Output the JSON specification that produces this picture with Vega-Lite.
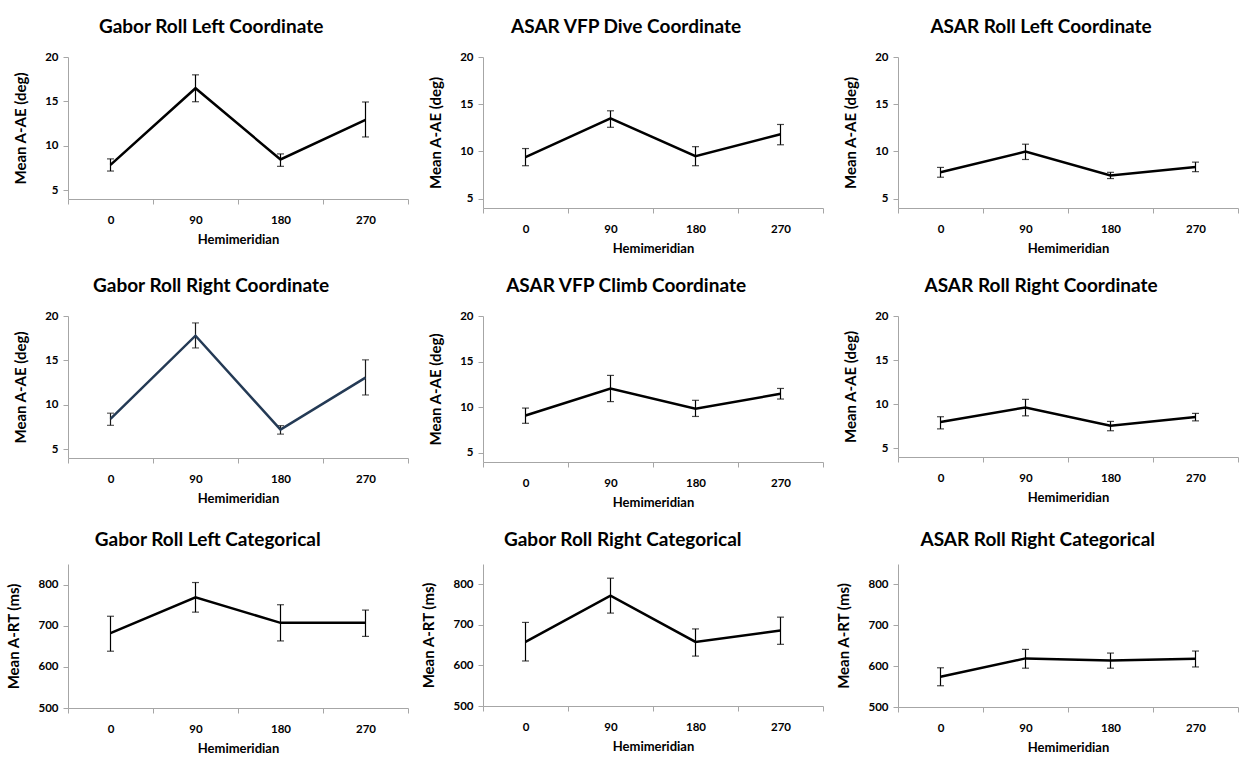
{
  "$schema": "https://vega.github.io/schema/vega-lite/v6.json",
  "background": "white",
  "padding": {"left": 6, "top": 18, "right": 4, "bottom": 4},
  "datasets": {
    "d": [
      {"panel": "Gabor Roll Left Coordinate", "hm": 0, "mean": 7.85, "lo": 7.15, "hi": 8.52},
      {"panel": "Gabor Roll Left Coordinate", "hm": 90, "mean": 16.48, "lo": 14.96, "hi": 17.99},
      {"panel": "Gabor Roll Left Coordinate", "hm": 180, "mean": 8.45, "lo": 7.68, "hi": 9.08},
      {"panel": "Gabor Roll Left Coordinate", "hm": 270, "mean": 12.92, "lo": 10.99, "hi": 14.93},
      {"panel": "ASAR VFP Dive Coordinate", "hm": 0, "mean": 9.4, "lo": 8.48, "hi": 10.3},
      {"panel": "ASAR VFP Dive Coordinate", "hm": 90, "mean": 13.51, "lo": 12.55, "hi": 14.3},
      {"panel": "ASAR VFP Dive Coordinate", "hm": 180, "mean": 9.5, "lo": 8.48, "hi": 10.5},
      {"panel": "ASAR VFP Dive Coordinate", "hm": 270, "mean": 11.82, "lo": 10.7, "hi": 12.85},
      {"panel": "ASAR Roll Left Coordinate", "hm": 0, "mean": 7.78, "lo": 7.26, "hi": 8.3},
      {"panel": "ASAR Roll Left Coordinate", "hm": 90, "mean": 9.97, "lo": 9.14, "hi": 10.76},
      {"panel": "ASAR Roll Left Coordinate", "hm": 180, "mean": 7.45, "lo": 7.12, "hi": 7.78},
      {"panel": "ASAR Roll Left Coordinate", "hm": 270, "mean": 8.34, "lo": 7.85, "hi": 8.86},
      {"panel": "Gabor Roll Right Coordinate", "hm": 0, "mean": 8.42, "lo": 7.68, "hi": 9.05},
      {"panel": "Gabor Roll Right Coordinate", "hm": 90, "mean": 17.78, "lo": 16.4, "hi": 19.22},
      {"panel": "Gabor Roll Right Coordinate", "hm": 180, "mean": 7.19, "lo": 6.69, "hi": 7.65},
      {"panel": "Gabor Roll Right Coordinate", "hm": 270, "mean": 13.05, "lo": 11.1, "hi": 15.06},
      {"panel": "ASAR VFP Climb Coordinate", "hm": 0, "mean": 9.09, "lo": 8.24, "hi": 9.91},
      {"panel": "ASAR VFP Climb Coordinate", "hm": 90, "mean": 12.06, "lo": 10.62, "hi": 13.49},
      {"panel": "ASAR VFP Climb Coordinate", "hm": 180, "mean": 9.84, "lo": 8.99, "hi": 10.76},
      {"panel": "ASAR VFP Climb Coordinate", "hm": 270, "mean": 11.48, "lo": 10.9, "hi": 12.06},
      {"panel": "ASAR Roll Right Coordinate", "hm": 0, "mean": 7.97, "lo": 7.19, "hi": 8.57},
      {"panel": "ASAR Roll Right Coordinate", "hm": 90, "mean": 9.62, "lo": 8.67, "hi": 10.54},
      {"panel": "ASAR Roll Right Coordinate", "hm": 180, "mean": 7.54, "lo": 6.98, "hi": 8.04},
      {"panel": "ASAR Roll Right Coordinate", "hm": 270, "mean": 8.53, "lo": 8.1, "hi": 8.95},
      {"panel": "Gabor Roll Left Categorical", "hm": 0, "mean": 682, "lo": 638, "hi": 723},
      {"panel": "Gabor Roll Left Categorical", "hm": 90, "mean": 769, "lo": 733, "hi": 805},
      {"panel": "Gabor Roll Left Categorical", "hm": 180, "mean": 707, "lo": 663, "hi": 751},
      {"panel": "Gabor Roll Left Categorical", "hm": 270, "mean": 707, "lo": 674, "hi": 738},
      {"panel": "Gabor Roll Right Categorical", "hm": 0, "mean": 658, "lo": 611, "hi": 706},
      {"panel": "Gabor Roll Right Categorical", "hm": 90, "mean": 772, "lo": 729, "hi": 815},
      {"panel": "Gabor Roll Right Categorical", "hm": 180, "mean": 658, "lo": 623, "hi": 690},
      {"panel": "Gabor Roll Right Categorical", "hm": 270, "mean": 686, "lo": 652, "hi": 719},
      {"panel": "ASAR Roll Right Categorical", "hm": 0, "mean": 574, "lo": 552, "hi": 596},
      {"panel": "ASAR Roll Right Categorical", "hm": 90, "mean": 619, "lo": 595, "hi": 641},
      {"panel": "ASAR Roll Right Categorical", "hm": 180, "mean": 614, "lo": 595, "hi": 632},
      {"panel": "ASAR Roll Right Categorical", "hm": 270, "mean": 618, "lo": 598, "hi": 637}
    ]
  },
  "columns": 3,
  "spacing": {"column": 12, "row": 21},
  "concat": [
    {
      "title": "Gabor Roll Left Coordinate", "width": 340, "height": 142,
      "data": {"name": "d"},
      "transform": [{"filter": "datum.panel === 'Gabor Roll Left Coordinate'"}],
      "encoding": {"x": {"field": "hm", "type": "ordinal", "scale": {"type": "band", "paddingInner": 0, "paddingOuter": 0}, "axis": {"title": "Hemimeridian", "tickBand": "extent", "labelAngle": 0}}},
      "layer": [
        {"mark": {"type": "rule", "color": "black", "strokeWidth": 1.2}, "encoding": {"y": {"field": "lo", "type": "quantitative", "scale": {"domain": [5, 20]}, "axis": {"title": "Mean A-AE (deg)", "values": [5, 10, 15, 20]}}, "y2": {"field": "hi"}}},
        {"mark": {"type": "tick", "color": "black", "size": 7, "thickness": 1.2, "orient": "horizontal"}, "encoding": {"y": {"field": "lo", "type": "quantitative", "axis": {"title": "Mean A-AE (deg)"}}}},
        {"mark": {"type": "tick", "color": "black", "size": 7, "thickness": 1.2, "orient": "horizontal"}, "encoding": {"y": {"field": "hi", "type": "quantitative", "axis": {"title": "Mean A-AE (deg)"}}}},
        {"mark": {"type": "line", "color": "black", "strokeWidth": 2.5}, "encoding": {"y": {"field": "mean", "type": "quantitative", "axis": {"title": "Mean A-AE (deg)"}}}}
      ]
    },
    {
      "title": "ASAR VFP Dive Coordinate", "width": 340, "height": 151,
      "data": {"name": "d"},
      "transform": [{"filter": "datum.panel === 'ASAR VFP Dive Coordinate'"}],
      "encoding": {"x": {"field": "hm", "type": "ordinal", "scale": {"type": "band", "paddingInner": 0, "paddingOuter": 0}, "axis": {"title": "Hemimeridian", "tickBand": "extent", "labelAngle": 0}}},
      "layer": [
        {"mark": {"type": "rule", "color": "black", "strokeWidth": 1.2}, "encoding": {"y": {"field": "lo", "type": "quantitative", "scale": {"domain": [5, 20]}, "axis": {"title": "Mean A-AE (deg)", "values": [5, 10, 15, 20]}}, "y2": {"field": "hi"}}},
        {"mark": {"type": "tick", "color": "black", "size": 7, "thickness": 1.2, "orient": "horizontal"}, "encoding": {"y": {"field": "lo", "type": "quantitative", "axis": {"title": "Mean A-AE (deg)"}}}},
        {"mark": {"type": "tick", "color": "black", "size": 7, "thickness": 1.2, "orient": "horizontal"}, "encoding": {"y": {"field": "hi", "type": "quantitative", "axis": {"title": "Mean A-AE (deg)"}}}},
        {"mark": {"type": "line", "color": "black", "strokeWidth": 2.5}, "encoding": {"y": {"field": "mean", "type": "quantitative", "axis": {"title": "Mean A-AE (deg)"}}}}
      ]
    },
    {
      "title": "ASAR Roll Left Coordinate", "width": 340, "height": 151,
      "data": {"name": "d"},
      "transform": [{"filter": "datum.panel === 'ASAR Roll Left Coordinate'"}],
      "encoding": {"x": {"field": "hm", "type": "ordinal", "scale": {"type": "band", "paddingInner": 0, "paddingOuter": 0}, "axis": {"title": "Hemimeridian", "tickBand": "extent", "labelAngle": 0}}},
      "layer": [
        {"mark": {"type": "rule", "color": "black", "strokeWidth": 1.2}, "encoding": {"y": {"field": "lo", "type": "quantitative", "scale": {"domain": [5, 20]}, "axis": {"title": "Mean A-AE (deg)", "values": [5, 10, 15, 20]}}, "y2": {"field": "hi"}}},
        {"mark": {"type": "tick", "color": "black", "size": 7, "thickness": 1.2, "orient": "horizontal"}, "encoding": {"y": {"field": "lo", "type": "quantitative", "axis": {"title": "Mean A-AE (deg)"}}}},
        {"mark": {"type": "tick", "color": "black", "size": 7, "thickness": 1.2, "orient": "horizontal"}, "encoding": {"y": {"field": "hi", "type": "quantitative", "axis": {"title": "Mean A-AE (deg)"}}}},
        {"mark": {"type": "line", "color": "black", "strokeWidth": 2.5}, "encoding": {"y": {"field": "mean", "type": "quantitative", "axis": {"title": "Mean A-AE (deg)"}}}}
      ]
    },
    {
      "title": "Gabor Roll Right Coordinate", "width": 340, "height": 142,
      "data": {"name": "d"},
      "transform": [{"filter": "datum.panel === 'Gabor Roll Right Coordinate'"}],
      "encoding": {"x": {"field": "hm", "type": "ordinal", "scale": {"type": "band", "paddingInner": 0, "paddingOuter": 0}, "axis": {"title": "Hemimeridian", "tickBand": "extent", "labelAngle": 0}}},
      "layer": [
        {"mark": {"type": "rule", "color": "#1a1a1a", "strokeWidth": 1.2}, "encoding": {"y": {"field": "lo", "type": "quantitative", "scale": {"domain": [5, 20]}, "axis": {"title": "Mean A-AE (deg)", "values": [5, 10, 15, 20]}}, "y2": {"field": "hi"}}},
        {"mark": {"type": "tick", "color": "#1a1a1a", "size": 7, "thickness": 1.2, "orient": "horizontal"}, "encoding": {"y": {"field": "lo", "type": "quantitative", "axis": {"title": "Mean A-AE (deg)"}}}},
        {"mark": {"type": "tick", "color": "#1a1a1a", "size": 7, "thickness": 1.2, "orient": "horizontal"}, "encoding": {"y": {"field": "hi", "type": "quantitative", "axis": {"title": "Mean A-AE (deg)"}}}},
        {"mark": {"type": "line", "color": "#243A55", "strokeWidth": 2.5}, "encoding": {"y": {"field": "mean", "type": "quantitative", "axis": {"title": "Mean A-AE (deg)"}}}}
      ]
    },
    {
      "title": "ASAR VFP Climb Coordinate", "width": 340, "height": 146,
      "data": {"name": "d"},
      "transform": [{"filter": "datum.panel === 'ASAR VFP Climb Coordinate'"}],
      "encoding": {"x": {"field": "hm", "type": "ordinal", "scale": {"type": "band", "paddingInner": 0, "paddingOuter": 0}, "axis": {"title": "Hemimeridian", "tickBand": "extent", "labelAngle": 0}}},
      "layer": [
        {"mark": {"type": "rule", "color": "black", "strokeWidth": 1.2}, "encoding": {"y": {"field": "lo", "type": "quantitative", "scale": {"domain": [5, 20]}, "axis": {"title": "Mean A-AE (deg)", "values": [5, 10, 15, 20]}}, "y2": {"field": "hi"}}},
        {"mark": {"type": "tick", "color": "black", "size": 7, "thickness": 1.2, "orient": "horizontal"}, "encoding": {"y": {"field": "lo", "type": "quantitative", "axis": {"title": "Mean A-AE (deg)"}}}},
        {"mark": {"type": "tick", "color": "black", "size": 7, "thickness": 1.2, "orient": "horizontal"}, "encoding": {"y": {"field": "hi", "type": "quantitative", "axis": {"title": "Mean A-AE (deg)"}}}},
        {"mark": {"type": "line", "color": "black", "strokeWidth": 2.5}, "encoding": {"y": {"field": "mean", "type": "quantitative", "axis": {"title": "Mean A-AE (deg)"}}}}
      ]
    },
    {
      "title": "ASAR Roll Right Coordinate", "width": 340, "height": 141,
      "data": {"name": "d"},
      "transform": [{"filter": "datum.panel === 'ASAR Roll Right Coordinate'"}],
      "encoding": {"x": {"field": "hm", "type": "ordinal", "scale": {"type": "band", "paddingInner": 0, "paddingOuter": 0}, "axis": {"title": "Hemimeridian", "tickBand": "extent", "labelAngle": 0}}},
      "layer": [
        {"mark": {"type": "rule", "color": "black", "strokeWidth": 1.2}, "encoding": {"y": {"field": "lo", "type": "quantitative", "scale": {"domain": [5, 20]}, "axis": {"title": "Mean A-AE (deg)", "values": [5, 10, 15, 20]}}, "y2": {"field": "hi"}}},
        {"mark": {"type": "tick", "color": "black", "size": 7, "thickness": 1.2, "orient": "horizontal"}, "encoding": {"y": {"field": "lo", "type": "quantitative", "axis": {"title": "Mean A-AE (deg)"}}}},
        {"mark": {"type": "tick", "color": "black", "size": 7, "thickness": 1.2, "orient": "horizontal"}, "encoding": {"y": {"field": "hi", "type": "quantitative", "axis": {"title": "Mean A-AE (deg)"}}}},
        {"mark": {"type": "line", "color": "black", "strokeWidth": 2.5}, "encoding": {"y": {"field": "mean", "type": "quantitative", "axis": {"title": "Mean A-AE (deg)"}}}}
      ]
    },
    {
      "title": "Gabor Roll Left Categorical", "width": 340, "height": 144,
      "data": {"name": "d"},
      "transform": [{"filter": "datum.panel === 'Gabor Roll Left Categorical'"}],
      "encoding": {"x": {"field": "hm", "type": "ordinal", "scale": {"type": "band", "paddingInner": 0, "paddingOuter": 0}, "axis": {"title": "Hemimeridian", "tickBand": "extent", "labelAngle": 0}}},
      "layer": [
        {"mark": {"type": "rule", "color": "black", "strokeWidth": 1.2}, "encoding": {"y": {"field": "lo", "type": "quantitative", "scale": {"domain": [500, 850]}, "axis": {"title": "Mean A-RT (ms)", "values": [500, 600, 700, 800]}}, "y2": {"field": "hi"}}},
        {"mark": {"type": "tick", "color": "black", "size": 7, "thickness": 1.2, "orient": "horizontal"}, "encoding": {"y": {"field": "lo", "type": "quantitative", "axis": {"title": "Mean A-RT (ms)"}}}},
        {"mark": {"type": "tick", "color": "black", "size": 7, "thickness": 1.2, "orient": "horizontal"}, "encoding": {"y": {"field": "hi", "type": "quantitative", "axis": {"title": "Mean A-RT (ms)"}}}},
        {"mark": {"type": "line", "color": "black", "strokeWidth": 2.5}, "encoding": {"y": {"field": "mean", "type": "quantitative", "axis": {"title": "Mean A-RT (ms)"}}}}
      ]
    },
    {
      "title": "Gabor Roll Right Categorical", "width": 340, "height": 142,
      "data": {"name": "d"},
      "transform": [{"filter": "datum.panel === 'Gabor Roll Right Categorical'"}],
      "encoding": {"x": {"field": "hm", "type": "ordinal", "scale": {"type": "band", "paddingInner": 0, "paddingOuter": 0}, "axis": {"title": "Hemimeridian", "tickBand": "extent", "labelAngle": 0}}},
      "layer": [
        {"mark": {"type": "rule", "color": "black", "strokeWidth": 1.2}, "encoding": {"y": {"field": "lo", "type": "quantitative", "scale": {"domain": [500, 850]}, "axis": {"title": "Mean A-RT (ms)", "values": [500, 600, 700, 800]}}, "y2": {"field": "hi"}}},
        {"mark": {"type": "tick", "color": "black", "size": 7, "thickness": 1.2, "orient": "horizontal"}, "encoding": {"y": {"field": "lo", "type": "quantitative", "axis": {"title": "Mean A-RT (ms)"}}}},
        {"mark": {"type": "tick", "color": "black", "size": 7, "thickness": 1.2, "orient": "horizontal"}, "encoding": {"y": {"field": "hi", "type": "quantitative", "axis": {"title": "Mean A-RT (ms)"}}}},
        {"mark": {"type": "line", "color": "black", "strokeWidth": 2.5}, "encoding": {"y": {"field": "mean", "type": "quantitative", "axis": {"title": "Mean A-RT (ms)"}}}}
      ]
    },
    {
      "title": "ASAR Roll Right Categorical", "width": 340, "height": 143,
      "data": {"name": "d"},
      "transform": [{"filter": "datum.panel === 'ASAR Roll Right Categorical'"}],
      "encoding": {"x": {"field": "hm", "type": "ordinal", "scale": {"type": "band", "paddingInner": 0, "paddingOuter": 0}, "axis": {"title": "Hemimeridian", "tickBand": "extent", "labelAngle": 0}}},
      "layer": [
        {"mark": {"type": "rule", "color": "black", "strokeWidth": 1.2}, "encoding": {"y": {"field": "lo", "type": "quantitative", "scale": {"domain": [500, 850]}, "axis": {"title": "Mean A-RT (ms)", "values": [500, 600, 700, 800]}}, "y2": {"field": "hi"}}},
        {"mark": {"type": "tick", "color": "black", "size": 7, "thickness": 1.2, "orient": "horizontal"}, "encoding": {"y": {"field": "lo", "type": "quantitative", "axis": {"title": "Mean A-RT (ms)"}}}},
        {"mark": {"type": "tick", "color": "black", "size": 7, "thickness": 1.2, "orient": "horizontal"}, "encoding": {"y": {"field": "hi", "type": "quantitative", "axis": {"title": "Mean A-RT (ms)"}}}},
        {"mark": {"type": "line", "color": "black", "strokeWidth": 2.5}, "encoding": {"y": {"field": "mean", "type": "quantitative", "axis": {"title": "Mean A-RT (ms)"}}}}
      ]
    }
  ],
  "config": {
    "font": "Lato",
    "view": {"stroke": null},
    "title": {"fontSize": 19, "fontWeight": "bold", "color": "black", "anchor": "middle", "frame": "bounds", "offset": 14},
    "axis": {"domainColor": "#A6A6A6", "tickColor": "#A6A6A6", "labelFontSize": 11.5, "labelFontWeight": "bold", "labelColor": "black", "titleFontWeight": "bold", "titleColor": "black", "grid": false, "tickSize": 5},
    "axisX": {"labelPadding": 10, "titlePadding": 8, "titleFontSize": 13},
    "axisY": {"labelPadding": 5, "titlePadding": 16, "titleFontSize": 15}
  }
}
